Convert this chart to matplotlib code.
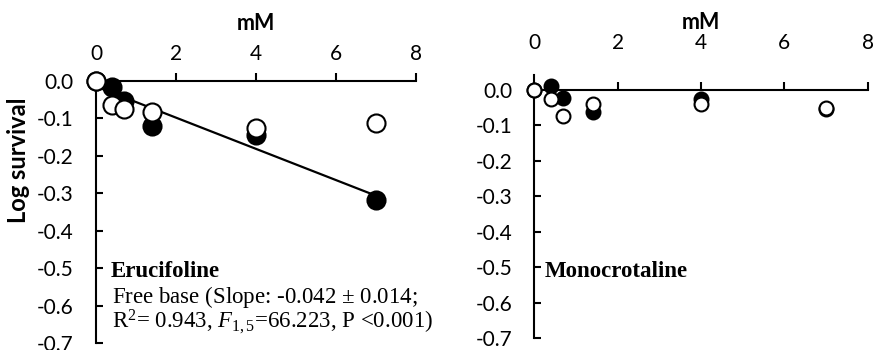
"""Log survival vs concentration: erucifoline and monocrotaline."""
import numpy as np
import matplotlib
matplotlib.use('Agg')
import matplotlib.pyplot as plt

plt.rcParams.update({
    'font.family':        'Lato',
    'axes.unicode_minus': False,
    'mathtext.fontset':   'custom',
    'mathtext.rm':        'Liberation Serif',
    'mathtext.it':        'Liberation Serif:italic',
    'mathtext.bf':        'Liberation Serif:bold',
})

# data (mM, log survival)
conc = [0, 0.4, 0.7, 1.4, 4, 7]
eruc_filled = [0, -0.015, -0.053, -0.119, -0.145, -0.318]
eruc_open = [0, -0.064, -0.075, -0.084, -0.125, -0.111]
mono_filled = [0, 0.011, -0.022, -0.061, -0.025, -0.054]
mono_open = [0, -0.026, -0.073, -0.040, -0.040, -0.050]

x_ticks = [0, 2, 4, 6, 8]
y_ticks = [0.0, -0.1, -0.2, -0.3, -0.4, -0.5, -0.6, -0.7]

W, H = 875, 350
fig = plt.figure(figsize=(W / 100, H / 100), dpi=100)


def px(x, y):
    return x / W, 1 - y / H


def setup(ax, ylim, lab_pad, mm_pad):
    ax.set_xlim(0, 8)
    ax.set_ylim(*ylim)
    ax.spines['top'].set_position(('data', 0))
    ax.spines['right'].set_visible(False)
    ax.spines['bottom'].set_visible(False)
    for s in ('top', 'left'):
        ax.spines[s].set_linewidth(1.5)
    ax.xaxis.set_ticks_position('top')
    ax.set_xticks(x_ticks)
    ax.tick_params(axis='x', direction='out', length=5.5, width=1.5,
                   labeltop=False, labelbottom=False)
    ax.set_yticks(y_ticks)
    ax.set_yticklabels([f'{v:.1f}' for v in y_ticks])
    ax.tick_params(axis='y', direction='in', length=5, width=1.5,
                   pad=16, labelsize=15)
    sec = ax.secondary_xaxis('top')
    sec.set_xticks(x_ticks)
    sec.set_xticklabels([str(v) for v in x_ticks])
    sec.tick_params(length=0, pad=lab_pad, labelsize=15)
    sec.spines['top'].set_visible(False)
    sec.set_xlabel('mM', fontsize=15.5, fontweight='bold', labelpad=mm_pad)
    return sec


# left panel: erucifoline
ax1 = fig.add_axes([96 / W, 7 / H, 320 / W, 262 / H])
setup(ax1, (-0.7, 0.0), 12.5, 10)
slope, icpt = np.polyfit(conc, eruc_filled, 1)
xs = np.array([conc[0], conc[-1]])
ax1.plot(xs, icpt + slope * xs, '-', color='black', lw=1.6, zorder=3)
ax1.plot(conc, eruc_filled, 'o', ms=13, mfc='black', mec='black', mew=1.5,
         clip_on=False, zorder=4)
ax1.plot(conc, eruc_open, 'o', ms=13, mfc='white', mec='black', mew=1.5,
         clip_on=False, zorder=5)

fig.text(*px(19, 160), 'Log survival', rotation=90, ha='center', va='center',
         fontsize=17, fontweight='bold')

serif = 'Liberation Serif'
fs = 16.5
fig.text(*px(110.7, 277), 'Erucifoline', family=serif, fontweight='bold',
         fontsize=fs, va='baseline')
# va='baseline' on two lines aligns the last line
fig.text(*px(111.7, 328),
         'Free base (Slope: -0.042 $\\pm$ 0.014;\n'
         'R$^{2}$= 0.943, $\\mathit{F}_{\\mathit{1,5}}$=66.223, P <0.001)',
         family=serif, fontsize=fs, va='baseline', linespacing=0.9)

# right panel: monocrotaline
ax2 = fig.add_axes([534.3 / W, 11.7 / H, 333.3 / W, 263.3 / H])
setup(ax2, (-0.7, 0.042), 15.5, 3)
ax2.plot(conc, mono_filled, 'o', ms=10, mfc='black', mec='black', mew=1.5,
         clip_on=False, zorder=4)
ax2.plot(conc, mono_open, 'o', ms=10, mfc='white', mec='black', mew=1.5,
         clip_on=False, zorder=5)

fig.text(*px(545, 277.3), 'Monocrotaline', family=serif, fontweight='bold',
         fontsize=fs, va='baseline')

fig.savefig('out.png', dpi=100)
